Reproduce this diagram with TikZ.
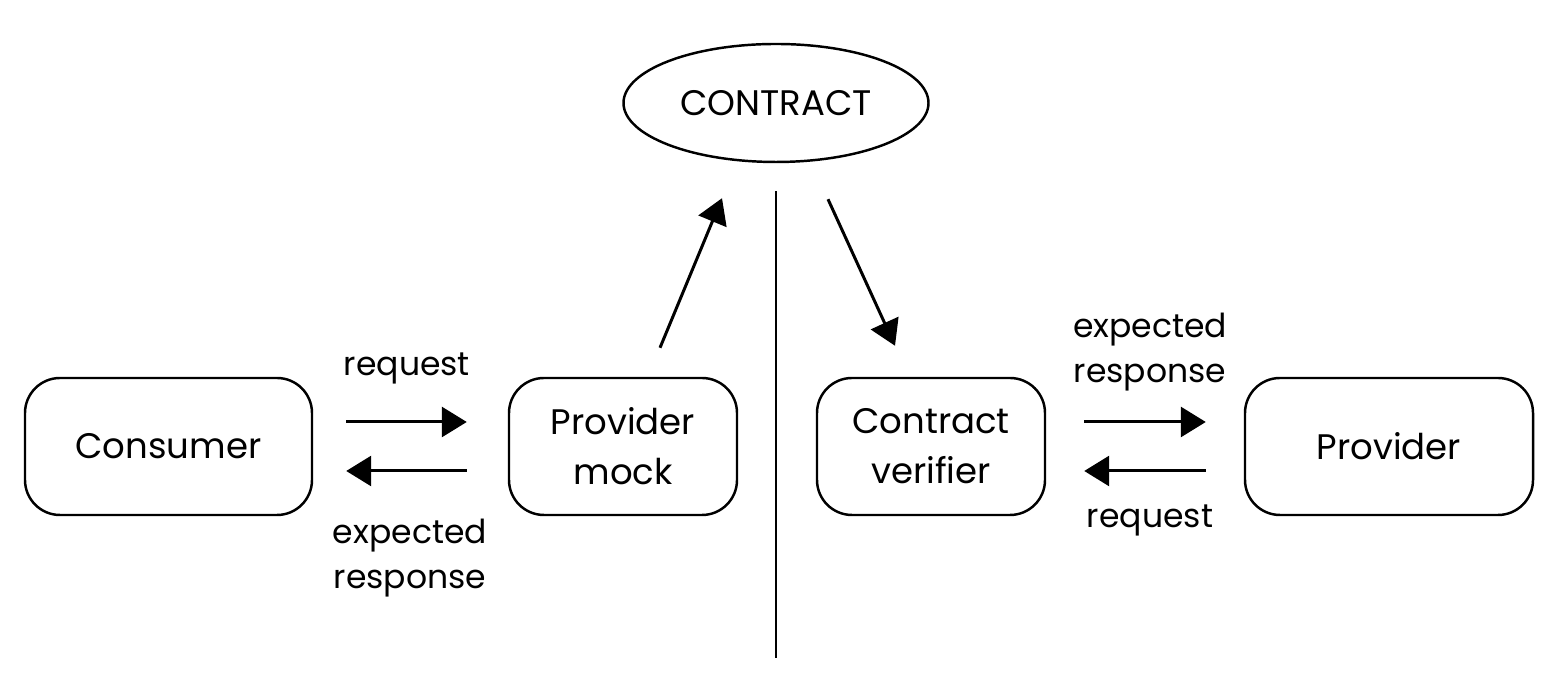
\documentclass[tikz,border=0pt]{standalone}
\usepackage{fontspec}
\setmainfont{Poppins}
\usepackage{tikz}
\usetikzlibrary{arrows.meta}
\usetikzlibrary{shapes}
\tikzset{
  party/.style={draw, line width=0.7pt, rounded corners=0.35cm, minimum height=1.37cm, align=center, font=\fontsize{10.1}{14.2}\selectfont},
  pact/.style={draw, ellipse, inner sep=0pt, line width=0.7pt, minimum width=3.05cm, minimum height=1.18cm, font=\fontsize{10.1}{14.2}\selectfont},
  flow/.style={line width=0.85pt, -{Triangle[length=0.25cm, width=0.30cm]}},
  lbl/.style={align=center, font=\fontsize{9.4}{12.8}\selectfont}
}

\begin{document}
\begin{tikzpicture}
        \useasboundingbox (0,0) rectangle (15.59,6.82);
        % contract and divider
        \node[pact] (contract) at (7.76,5.79) {CONTRACT};
        \draw[line width=0.5pt] ([yshift=-0.28cm]contract.south) -- ++(0,-4.67);
        % consumer side
        \node[party, minimum width=2.87cm] (consumer) at (1.685,2.355) {Consumer};
        \node[party, minimum width=2.28cm] (mock) at (6.23,2.355) {Provider\\mock};
        \draw[flow] ([xshift=0.33cm,yshift=0.245cm]consumer.east) -- ([xshift=-0.41cm,yshift=0.245cm]mock.west);
        \draw[flow] ([xshift=-0.41cm,yshift=-0.245cm]mock.west) -- ([xshift=0.33cm,yshift=-0.245cm]consumer.east);
        \node[lbl] (req1) at (4.07,3.14) {request};
        \node[lbl] (resp1) at (4.10,1.24) {expected\\response};
        \draw[flow] ([xshift=0.37cm,yshift=0.29cm]mock.north) -- ([xshift=-0.54cm,yshift=-0.35cm]contract.south);
        % provider side
        \node[party, minimum width=2.28cm] (verifier) at (9.31,2.355) {Contract\\verifier};
        \node[party, minimum width=2.88cm] (provider) at (13.89,2.355) {Provider};
        \draw[flow] ([xshift=0.38cm,yshift=0.245cm]verifier.east) -- ([xshift=-0.38cm,yshift=0.245cm]provider.west);
        \draw[flow] ([xshift=-0.38cm,yshift=-0.245cm]provider.west) -- ([xshift=0.38cm,yshift=-0.245cm]verifier.east);
        \node[lbl] (resp2) at (11.50,3.30) {expected\\response};
        \node[lbl] (req2) at (11.50,1.62) {request};
        \draw[flow] ([xshift=0.52cm,yshift=-0.36cm]contract.south) -- ([xshift=-0.36cm,yshift=0.31cm]verifier.north);
\end{tikzpicture}
\end{document}
